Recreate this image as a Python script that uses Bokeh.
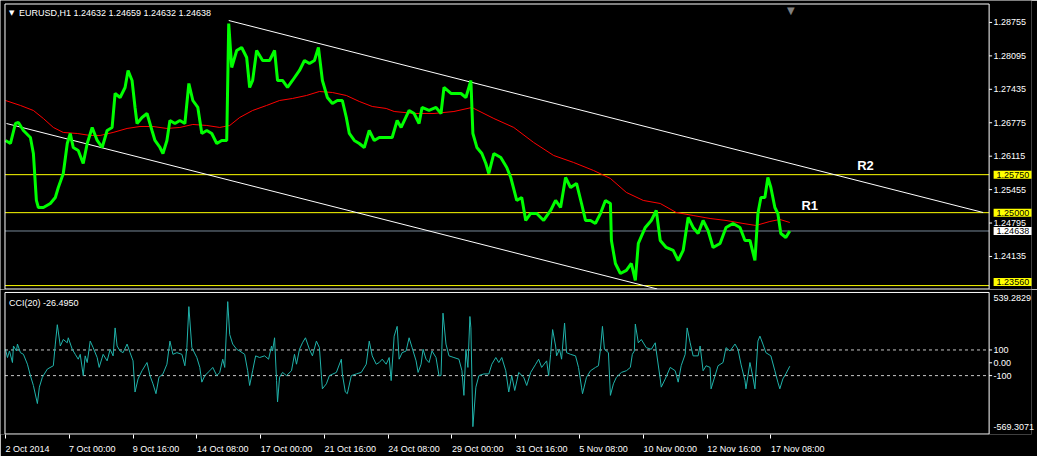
from bokeh.plotting import figure
from bokeh.models import (Range1d, Label, FixedTicker, LinearAxis, NumeralTickFormatter)
from bokeh.layouts import column
from bokeh.embed import file_html
from bokeh.resources import INLINE
from bokeh.core.properties import value

# ---------------- data (bar index = hourly bar number) ----------------
price_points = [
    (2, 1.26425), (7, 1.26366), (12, 1.26760), (15, 1.26780), (20, 1.26622), (27, 1.26484),
    (30, 1.26168), (33, 1.25241), (35, 1.25102), (40, 1.25102), (47, 1.25181), (52, 1.25300),
    (55, 1.25497), (60, 1.25774), (64, 1.26366), (67, 1.26563), (70, 1.26287), (75, 1.26228),
    (80, 1.25971), (84, 1.26366), (89, 1.26682), (94, 1.26425), (99, 1.26287), (104, 1.26622),
    (109, 1.26682), (112, 1.27353), (117, 1.27274), (122, 1.27471), (125, 1.27807), (129, 1.27609),
    (132, 1.27076), (134, 1.26760), (139, 1.26879), (144, 1.26958), (149, 1.26622), (152, 1.26425),
    (157, 1.26287), (160, 1.26168), (164, 1.26425), (167, 1.26820), (172, 1.26760), (177, 1.26820),
    (182, 1.26760), (186, 1.27550), (190, 1.27214), (195, 1.27076), (199, 1.26563), (204, 1.26622),
    (209, 1.26563), (214, 1.26366), (219, 1.26425), (224, 1.26425), (226, 1.28734), (229, 1.27866),
    (234, 1.28201), (239, 1.28261), (244, 1.28063), (247, 1.27471), (250, 1.27609), (254, 1.28201),
    (260, 1.28004), (267, 1.28004), (272, 1.28201), (275, 1.27609), (280, 1.27609), (285, 1.27471),
    (290, 1.27609), (297, 1.27807), (302, 1.28004), (307, 1.27945), (312, 1.28004), (316, 1.28261),
    (320, 1.27609), (325, 1.27274), (330, 1.27155), (335, 1.27214), (340, 1.27214), (344, 1.26879),
    (347, 1.26563), (352, 1.26425), (357, 1.26366), (362, 1.26287), (367, 1.26622), (372, 1.26425),
    (377, 1.26484), (384, 1.26484), (390, 1.26484), (395, 1.26820), (399, 1.26682), (407, 1.27017),
    (412, 1.26958), (417, 1.26760), (420, 1.27076), (427, 1.27017), (434, 1.27076), (439, 1.26958),
    (442, 1.27471), (449, 1.27353), (459, 1.27353), (464, 1.27274), (469, 1.27609), (471, 1.26563),
    (475, 1.26287), (480, 1.26168), (484, 1.25971), (487, 1.25774), (492, 1.26168), (499, 1.26089),
    (505, 1.25892), (509, 1.25694), (515, 1.25241), (520, 1.25300), (524, 1.24846), (529, 1.24984),
    (535, 1.24984), (542, 1.24846), (549, 1.25043), (554, 1.25241), (559, 1.25102), (564, 1.25694),
    (569, 1.25497), (575, 1.25576), (580, 1.25181), (584, 1.24846), (589, 1.24846), (594, 1.24787),
    (599, 1.24984), (604, 1.25241), (609, 1.25181), (610, 1.24451), (614, 1.23997), (619, 1.23799),
    (625, 1.23859), (630, 1.23997), (634, 1.23661), (637, 1.24392), (644, 1.24708), (650, 1.24846),
    (655, 1.25043), (659, 1.24451), (665, 1.24313), (672, 1.24254), (677, 1.24056), (682, 1.24254),
    (687, 1.24905), (692, 1.24708), (697, 1.24589), (702, 1.24846), (707, 1.24648), (712, 1.24313),
    (719, 1.24392), (725, 1.24708), (732, 1.24787), (739, 1.24708), (744, 1.24451), (749, 1.24451),
    (754, 1.24056), (757, 1.24984), (760, 1.25300), (764, 1.25300), (767, 1.25694), (770, 1.25497),
    (774, 1.25102), (777, 1.24984), (780, 1.24589), (785, 1.24510), (789, 1.24638),
]

ma_points = [
    (2, 1.27214), (17, 1.27116), (30, 1.27017), (40, 1.26859), (50, 1.26682), (60, 1.26583),
    (74, 1.26563), (87, 1.26524), (97, 1.26524), (110, 1.26583), (124, 1.26662), (137, 1.26701),
    (150, 1.26701), (164, 1.26662), (177, 1.26682), (190, 1.26741), (204, 1.26721), (217, 1.26682),
    (227, 1.26721), (237, 1.26879), (250, 1.27017), (264, 1.27116), (277, 1.27214), (290, 1.27254),
    (304, 1.27313), (317, 1.27392), (330, 1.27372), (344, 1.27313), (357, 1.27195), (370, 1.27096),
    (384, 1.27057), (392, 1.26997), (412, 1.26958), (432, 1.26958), (452, 1.26997), (470, 1.27076),
    (492, 1.26859), (512, 1.26682), (532, 1.26385), (552, 1.26129), (572, 1.25991), (592, 1.25833),
    (609, 1.25675), (625, 1.25399), (642, 1.25241), (659, 1.25181), (675, 1.25004), (692, 1.24944),
    (709, 1.24885), (725, 1.24846), (742, 1.24787), (755, 1.24747), (769, 1.24826), (779, 1.24866),
    (789, 1.24806),
]

cci_points = [
    (2, 105), (4, 41), (6, 92), (9, 2), (10, 131), (13, 92), (14, 146), (17, 79), (20, 66),
    (24, -11), (27, -100), (30, -177), (34, -318), (36, -190), (39, -113), (44, -49), (50, -23),
    (52, 146), (54, 297), (57, 131), (60, 182), (64, 156), (65, 195), (69, 105), (72, 66),
    (75, 28), (77, 66), (80, -100), (82, 54), (84, 2), (87, 169), (90, 118), (94, 41), (96, -36),
    (100, 66), (104, 15), (107, 105), (110, 54), (112, 272), (114, 131), (117, 92), (120, 79),
    (124, 146), (127, 79), (130, 15), (132, -228), (135, -126), (139, -62), (144, 2), (147, -100),
    (150, -164), (153, -241), (156, -113), (160, -87), (164, -11), (167, 169), (170, 66), (174, 79),
    (179, 66), (182, -23), (184, 118), (186, 438), (189, 118), (194, 41), (197, -36), (199, -151),
    (202, -100), (207, -62), (210, -36), (214, -100), (217, -75), (220, 28), (222, -36), (225, 477),
    (227, 220), (230, 146), (234, 105), (237, 92), (242, 66), (245, -62), (247, -177), (250, -62),
    (253, 54), (257, 41), (262, 54), (266, 28), (269, 131), (270, 92), (272, 195), (274, -139),
    (275, -305), (277, -113), (280, -75), (284, -100), (289, -62), (292, 66), (294, -11), (297, 105),
    (300, 156), (303, 195), (307, 105), (310, 54), (314, 169), (317, 118), (319, -100), (320, -203),
    (324, -164), (327, -100), (334, -75), (339, 28), (340, -87), (343, -228), (345, -241), (349, -100),
    (354, -87), (359, -75), (364, -11), (367, 169), (370, 54), (374, -11), (377, 2), (380, 28),
    (384, -11), (387, 41), (389, -139), (392, 208), (395, 284), (397, 28), (400, 79), (404, 92),
    (407, 195), (410, 118), (414, 15), (416, -75), (419, -11), (421, 105), (424, 28), (427, 2),
    (430, 92), (434, 41), (437, -100), (439, -100), (441, 387), (444, 146), (447, 54), (452, 41),
    (457, 28), (460, -62), (462, -254), (464, 105), (466, -36), (468, 361), (469, 272), (471, -498),
    (474, -190), (477, -100), (482, -87), (487, -87), (490, -11), (494, 41), (497, 2), (500, 41),
    (504, -62), (507, -228), (510, -100), (513, -216), (517, -75), (522, -113), (525, -177),
    (529, -75), (534, -11), (537, 28), (540, -36), (545, 15), (547, -100), (549, 66), (551, 259),
    (554, 131), (555, 54), (558, 105), (560, 28), (563, 310), (565, 79), (569, 66), (574, 54),
    (577, -36), (580, -190), (581, -241), (585, -113), (589, -62), (594, -36), (597, -23), (599, 105),
    (601, 284), (603, 105), (607, 79), (609, -254), (612, -164), (615, -113), (620, -75), (625, -62),
    (629, -36), (631, 66), (633, 92), (634, 302), (637, 156), (640, 182), (645, 118), (650, 105),
    (654, 156), (655, 92), (659, -126), (660, -190), (664, -126), (669, -36), (674, -62), (677, -151),
    (680, -23), (684, 66), (686, 272), (689, 156), (692, 54), (697, 54), (699, 131), (702, -62),
    (705, -23), (709, -36), (710, -203), (714, -100), (717, -23), (722, 2), (725, 118), (729, 92),
    (734, 146), (737, 105), (740, -11), (744, -139), (745, -203), (749, 2), (752, -113), (754, -203),
    (757, 169), (759, 208), (762, 146), (765, 79), (770, 54), (774, -62), (777, -151), (779, -203),
    (782, -126), (785, -87), (789, -26.495),
]

date_tick_bars = [2, 66, 130, 194, 258, 322, 386, 450, 514, 578, 642, 706, 770]
date_tick_labels = ["2 Oct 2014", "7 Oct 00:00", "9 Oct 16:00", "14 Oct 08:00", "17 Oct 00:00",
                    "21 Oct 16:00", "24 Oct 08:00", "29 Oct 00:00", "31 Oct 16:00", "5 Nov 08:00",
                    "10 Nov 00:00", "12 Nov 16:00", "17 Nov 08:00"]
price_ticks = [1.28755, 1.28095, 1.27435, 1.26775, 1.26115, 1.25455, 1.24795, 1.24135]
price_area = (1.23493, 1.29119)      # visible price window of the chart box
bar_area = (1.5, 989.0)              # visible bar window of the chart box
levels = [1.25750, 1.25000, 1.23560]
bid_price = 1.24638
title_text = "EURUSD,H1  1.24632 1.24659 1.24632 1.24638"
title_price = 1.28951
channel_x0 = [226, 3]
channel_y0 = [1.28793, 1.26760]
channel_x1 = [983, 656]
channel_y1 = [1.25003, 1.23493]
level_names = ["R1", "R2"]
level_name_bar = [809, 865]
level_name_price = [1.25142, 1.25931]
cci_area = (-555.4, 548.5)
cci_levels = [100, -100]
cci_ticks = [100, 0, -100]
cci_tick_labels = ["100", "0.00", "-100"]
cci_scale_max = 539.2829
cci_scale_min = -569.3071
cci_scale_label_pos = [506, -502]
cci_title = "CCI(20) -26.4950"
cci_title_level = 468
shift_marker_bar = 790

# ---------------- styling / geometry (pixels) ----------------
FONT = "Liberation Sans"
FS = "9px"
W = 1037
RB = 3                       # right border
FW = W - RB                  # frame width (frame starts at x=0)
AREA_L, AREA_R = 4.5, 991.5  # chart box left/right edge inside the frame
LABEL_X = 996                # left edge of the price-scale labels
H1 = 289                     # main panel frame height
A1_T, A1_B = 3.5, 288.5      # chart box top/bottom inside main frame
H2 = 147                     # CCI frame height
A2_T, A2_B = 3.0, 146.5      # chart box top/bottom inside CCI frame
BOT2 = 20                    # date axis height
BOX_PAD = dict(left=3, right=12, top=1, bottom=1)
CHAR_W = {" ": 278, ":": 278, "O": 778, "N": 722, "c": 500, "t": 278, "o": 556, "v": 500}


def text_width(s, px=9):
    return sum(CHAR_W.get(ch, 556) for ch in s) * px / 1000.0


bpp = (bar_area[1] - bar_area[0]) / (AREA_R - AREA_L)
xr = Range1d(bar_area[0] - AREA_L * bpp, bar_area[1] + (FW - AREA_R) * bpp)
price_upp = (price_area[1] - price_area[0]) / (A1_B - A1_T)


def full_range(area, top_px, bot_px, h):
    upp = (area[1] - area[0]) / (bot_px - top_px)
    return Range1d(area[0] - (h - bot_px) * upp, area[1] + top_px * upp)


price_bar, price_close = zip(*price_points)
ma_bar, ma_val = zip(*ma_points)
cci_bar, cci_val = zip(*cci_points)


def base_fig(yr, fh, bottom):
    f = figure(x_range=xr, y_range=yr, width=W, height=fh + bottom,
               min_border_left=0, min_border_right=RB, min_border_top=0,
               min_border_bottom=bottom, toolbar_location=None, output_backend="svg",
               background_fill_color="black", border_fill_color="black",
               outline_line_color=None, x_axis_location=None, y_axis_location=None)
    f.xgrid.grid_line_color = None
    f.ygrid.grid_line_color = None
    return f


def scale_axis(ticks, fmt=None, overrides=None):
    kw = {}
    if fmt is not None:
        kw["formatter"] = fmt
    if overrides is not None:
        kw["major_label_overrides"] = overrides
    ax = LinearAxis(ticker=FixedTicker(ticks=ticks), **kw)
    ax.axis_line_color = None
    ax.major_tick_line_color = None
    ax.minor_tick_line_color = None
    ax.major_tick_out = 0
    ax.major_tick_in = 0
    ax.major_label_text_color = "white"
    ax.major_label_text_font = FONT
    ax.major_label_text_font_size = FS
    ax.major_label_standoff = int(LABEL_X - FW)
    return ax


def chart_box(f, yarea):
    L, R = bar_area
    B, T = yarea
    f.line([L, R, R, L, L], [T, T, B, B, T], line_color="white", line_width=1)


tick_len = 3 * bpp

# ---------------- main price panel ----------------
p = base_fig(full_range(price_area, A1_T, A1_B, H1), H1, 0)
p.add_layout(scale_axis(price_ticks, fmt=NumeralTickFormatter(format="0.00000")), "right")

p.segment(x0=[bar_area[0]] * len(levels), x1=[bar_area[1]] * len(levels), y0=levels, y1=levels,
          line_color="#ffff00", line_width=1)
p.segment(x0=[bar_area[0]], x1=[bar_area[1]], y0=[bid_price], y1=[bid_price],
          line_color="#778899", line_width=1)
p.segment(x0=channel_x0, y0=channel_y0, x1=channel_x1, y1=channel_y1,
          line_color="white", line_width=1)
p.line(list(ma_bar), list(ma_val), line_color="#ff0000", line_width=1)
p.line(list(price_bar), list(price_close), line_color="#00ff00", line_width=3)
chart_box(p, price_area)
p.segment(x0=[bar_area[1]] * len(price_ticks), x1=[bar_area[1] + tick_len] * len(price_ticks),
          y0=price_ticks, y1=price_ticks, line_color="white", line_width=1)

p.text(x=level_name_bar, y=level_name_price, text=level_names, text_color="white",
       text_font=value(FONT), text_font_style="bold", text_font_size="13px",
       text_align="center", text_baseline="middle")

p.add_layout(Label(x=bar_area[0] + 4, y=title_price, text="▼", text_color="white",
                   text_font="DejaVu Sans", text_font_size="7px", text_baseline="middle"))
p.add_layout(Label(x=bar_area[0] + 14, y=title_price, text=title_text, text_color="white",
                   text_font=FONT, text_font_size=FS, text_baseline="middle"))
p.add_layout(Label(x=shift_marker_bar, y=price_area[1], text="▼", text_color="#808080",
                   text_font="DejaVu Sans", text_font_size="10px", text_baseline="top",
                   text_align="center", y_offset=-1))

box_x = bar_area[1] + (LABEL_X - AREA_R) * bpp


def box_offset(lv):
    # keep a price box inside the chart box (shift up when it would hang below it)
    px_above_bottom = (lv - price_area[0]) / price_upp
    return max(0, 7 - px_above_bottom)


for lv in levels:
    p.add_layout(Label(x=box_x, y=lv, y_offset=box_offset(lv), text=f"{lv:.5f}",
                       text_color="black", background_fill_color="#ffff00", text_font=FONT,
                       text_font_size=FS, text_baseline="middle", padding=BOX_PAD))
p.add_layout(Label(x=box_x, y=bid_price, text=f"{bid_price:.5f}", text_color="black",
                   background_fill_color="white", text_font=FONT, text_font_size=FS,
                   text_baseline="middle", padding=BOX_PAD))

# ---------------- CCI panel ----------------
c = base_fig(full_range(cci_area, A2_T, A2_B, H2), H2, BOT2)
cci_label_pos = [cci_scale_label_pos[0]] + cci_ticks + [cci_scale_label_pos[1]]
cci_label_txt = [f"{cci_scale_max:.4f}"] + cci_tick_labels + [f"{cci_scale_min:.4f}"]
c.add_layout(scale_axis(cci_label_pos, overrides=dict(zip(cci_label_pos, cci_label_txt))), "right")

date_label_pos = [round(b + text_width(t) / 2 * bpp) for b, t in zip(date_tick_bars, date_tick_labels)]
xax = LinearAxis(ticker=FixedTicker(ticks=date_label_pos, minor_ticks=date_tick_bars),
                 major_label_overrides=dict(zip(date_label_pos, date_tick_labels)))
xax.axis_line_color = None
xax.major_tick_line_color = None
xax.major_tick_out = 0
xax.minor_tick_line_color = "white"
xax.minor_tick_out = 4
xax.minor_tick_in = 0
xax.major_label_text_color = "white"
xax.major_label_text_font = FONT
xax.major_label_text_font_size = FS
xax.major_label_standoff = 5
c.add_layout(xax, "below")

c.segment(x0=[bar_area[0]] * 2, x1=[bar_area[1]] * 2, y0=cci_levels, y1=cci_levels,
          line_color="#c8c8c8", line_dash="3 3", line_width=1)
c.line(list(cci_bar), list(cci_val), line_color="#20b2aa", line_width=1)
chart_box(c, cci_area)
c.segment(x0=[bar_area[1]] * 3, x1=[bar_area[1] + tick_len] * 3, y0=cci_ticks, y1=cci_ticks,
          line_color="white", line_width=1)

c.add_layout(Label(x=bar_area[0] + 4, y=cci_title_level, text=cci_title, text_color="white",
                   text_font=FONT, text_font_size=FS, text_baseline="middle"))

layout = column(p, c, spacing=0)
open("out.html", "w").write(file_html(layout, INLINE))
